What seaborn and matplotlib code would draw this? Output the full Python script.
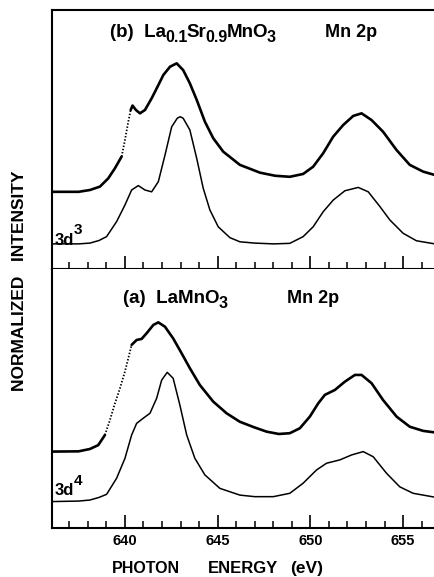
import numpy as np
import pandas as pd
import matplotlib
matplotlib.use("Agg")
import matplotlib.pyplot as plt
import seaborn as sns

# ---------------- data ----------------
# panel (b) La0.1Sr0.9MnO3 experiment
energy_b_exp = [636.05, 637.5, 638.11, 638.65, 639.1, 639.46, 639.82, 640.0, 640.18, 640.31,
                640.41, 640.59, 640.81, 641.08, 641.44, 641.8, 642.07, 642.43, 642.79, 643.14,
                643.5, 643.87, 644.31, 644.76, 645.3, 646.2, 647.28, 648.1, 648.89, 649.61,
                650.15, 650.69, 651.23, 651.77, 652.31, 652.76, 653.3, 653.92, 654.65, 655.36,
                656.08, 656.71]
intensity_b_exp = [0.298, 0.298, 0.305, 0.318, 0.350, 0.389, 0.434, 0.498, 0.569, 0.614,
                   0.631, 0.614, 0.601, 0.614, 0.659, 0.710, 0.749, 0.781, 0.794, 0.768,
                   0.717, 0.653, 0.569, 0.505, 0.453, 0.402, 0.372, 0.360, 0.356, 0.367,
                   0.395, 0.447, 0.511, 0.556, 0.591, 0.601, 0.575, 0.530, 0.459, 0.402,
                   0.376, 0.363]
dotted_range_b = [639.82, 640.31]

# panel (b) 3d3 calculation
energy_b_calc = [636.05, 637.5, 638.11, 638.6, 639.01, 639.55, 640.0, 640.36, 640.72, 641.08,
                 641.44, 641.8, 642.16, 642.52, 642.82, 642.98, 643.14, 643.5, 643.87, 644.22,
                 644.58, 645.03, 645.66, 646.2, 647.0, 648.0, 648.89, 649.61, 650.15, 650.69,
                 651.23, 651.86, 652.58, 653.12, 653.75, 654.29, 655.0, 655.72, 656.71]
intensity_b_calc = [0.097, 0.097, 0.100, 0.110, 0.125, 0.183, 0.247, 0.305, 0.322, 0.305,
                    0.298, 0.337, 0.440, 0.549, 0.582, 0.588, 0.582, 0.537, 0.427, 0.312,
                    0.228, 0.163, 0.121, 0.105, 0.100, 0.097, 0.099, 0.125, 0.163, 0.221,
                    0.266, 0.302, 0.315, 0.298, 0.241, 0.189, 0.138, 0.109, 0.097]

# panel (a) LaMnO3 experiment
energy_a_exp = [636.05, 637.5, 638.11, 638.56, 638.92, 639.19, 639.46, 639.73, 640.0, 640.18,
                640.36, 640.63, 640.9, 641.17, 641.53, 641.8, 642.16, 642.6, 643.06, 643.5,
                644.04, 644.76, 645.48, 646.2, 647.0, 647.64, 648.3, 648.89, 649.43, 649.97,
                650.42, 650.78, 651.32, 651.86, 652.4, 652.76, 653.3, 653.92, 654.65, 655.36,
                656.08, 656.71]
intensity_a_exp = [0.295, 0.296, 0.305, 0.320, 0.359, 0.417, 0.481, 0.539, 0.604, 0.655,
                   0.707, 0.726, 0.730, 0.752, 0.784, 0.794, 0.777, 0.732, 0.674, 0.617,
                   0.552, 0.488, 0.443, 0.410, 0.388, 0.372, 0.363, 0.366, 0.385, 0.430,
                   0.481, 0.514, 0.533, 0.565, 0.591, 0.591, 0.559, 0.494, 0.430, 0.391,
                   0.375, 0.369]
dotted_range_a = [638.92, 640.36]

# panel (a) 3d4 calculation
energy_a_calc = [636.05, 637.5, 638.11, 638.6, 639.01, 639.55, 640.0, 640.36, 640.63, 640.99,
                 641.35, 641.71, 641.98, 642.28, 642.6, 642.96, 643.33, 643.77, 644.31, 645.12,
                 646.2, 647.0, 648.0, 648.89, 649.61, 650.33, 650.87, 651.59, 652.22, 652.85,
                 653.39, 654.11, 654.82, 655.54, 656.71]
intensity_a_calc = [0.102, 0.104, 0.108, 0.118, 0.130, 0.192, 0.269, 0.359, 0.404, 0.424,
                    0.443, 0.501, 0.571, 0.601, 0.578, 0.475, 0.359, 0.269, 0.205, 0.153,
                    0.127, 0.121, 0.121, 0.134, 0.173, 0.224, 0.250, 0.263, 0.282, 0.295,
                    0.275, 0.211, 0.159, 0.134, 0.119]

major_ticks = [640, 645, 650, 655]
minor_ticks = [637, 638, 639, 641, 642, 643, 644, 646, 647, 648, 649, 651, 652, 653, 654, 656]
tick_labels = ["640", "645", "650", "655"]

# ---------------- style ----------------
sns.set_theme(style="ticks")
plt.rcParams["font.family"] = ["Liberation Sans", "DejaVu Sans"]
plt.rcParams["font.weight"] = "bold"
plt.rcParams["text.color"] = "black"
plt.rcParams["axes.labelcolor"] = "black"
plt.rcParams["xtick.color"] = "black"
plt.rcParams["ytick.color"] = "black"
plt.rcParams["axes.edgecolor"] = "black"
plt.rcParams["lines.solid_joinstyle"] = "round"
plt.rcParams["lines.solid_capstyle"] = "round"

W, H = 435, 577
fig = plt.figure(figsize=(W / 100, H / 100), dpi=100)
fig.patch.set_facecolor("white")

left_px, top_px, mid_px, bot_px = 51.7, 10, 269, 528
axw = (W - left_px) / W
ax_b = fig.add_axes([left_px / W, 1 - mid_px / H, axw, (mid_px - top_px) / H])
ax_a = fig.add_axes([left_px / W, 1 - bot_px / H, axw, (bot_px - mid_px) / H])

XLIM = (636.05, 656.72)


def draw_exp(ax, e, v, drange):
    df = pd.DataFrame({"energy": e, "intensity": v})
    lo, hi = drange
    seg1 = df[df.energy <= lo]
    segd = df[(df.energy >= lo) & (df.energy <= hi)]
    seg2 = df[df.energy >= hi]
    for seg in (seg1, seg2):
        sns.lineplot(data=seg, x="energy", y="intensity", ax=ax, color="black",
                     linewidth=1.9, estimator=None, sort=True)
    sns.lineplot(data=segd, x="energy", y="intensity", ax=ax, color="black",
                 linewidth=1.3, linestyle=(0, (0.8, 1.0)), estimator=None, sort=True)


def draw_calc(ax, e, v):
    df = pd.DataFrame({"energy": e, "intensity": v})
    sns.lineplot(data=df, x="energy", y="intensity", ax=ax, color="black",
                 linewidth=1.1, estimator=None, sort=True)


draw_exp(ax_b, energy_b_exp, intensity_b_exp, dotted_range_b)
draw_calc(ax_b, energy_b_calc, intensity_b_calc)
draw_exp(ax_a, energy_a_exp, intensity_a_exp, dotted_range_a)
draw_calc(ax_a, energy_a_calc, intensity_a_calc)

for ax in (ax_a, ax_b):
    ax.set_xlim(*XLIM)
    ax.set_ylim(0, 1)
    ax.set_xlabel("")
    ax.set_ylabel("")
    ax.set_yticks([])
    ax.set_facecolor("white")
    ax.spines["right"].set_visible(False)
    for s in ax.spines.values():
        s.set_linewidth(1.5)
        s.set_color("black")
    ax.set_xticks(major_ticks)
    ax.set_xticks(minor_ticks, minor=True)
    ax.tick_params(axis="x", which="major", direction="in", length=9.5, width=1.2,
                   color="black", labelcolor="black", pad=4, labelsize=10.5)
    ax.tick_params(axis="x", which="minor", direction="in", length=5, width=1.1,
                   color="black")

ax_a.spines["top"].set_visible(False)
ax_a.set_xticklabels(tick_labels, fontweight="bold")
ax_b.set_xticklabels([])

renderer = fig.canvas.get_renderer()


def ftext(xpx, ypx, s, **kw):
    return fig.text(xpx / W, 1 - ypx / H, s, color="black", fontweight="bold", **kw)


def seq_text(xpx, ypx, parts, gap=-1.0):
    """parts: list of (string, fontsize, vertical offset in px (down positive))"""
    x = xpx
    for s, size, dy in parts:
        t = ftext(x, ypx + dy, s, fontsize=size, va="baseline", ha="left")
        bb = t.get_window_extent(renderer)
        x = bb.x1 + gap


MAIN, SUB = 13.5, 11.5
seq_text(110, 37, [("(b)  La", MAIN, 0), ("0.1", SUB, 5), ("Sr", MAIN, 0), ("0.9", SUB, 5),
                   ("MnO", MAIN, 0), ("3", SUB, 5)])
ftext(325, 37, "Mn 2p", fontsize=13, va="baseline")
seq_text(123, 303, [("(a)  LaMnO", MAIN, 0), ("3", SUB, 5)])
ftext(287, 303, "Mn 2p", fontsize=13, va="baseline")
seq_text(55, 245, [("3d", 12, 0), ("3", 11, -11)])
seq_text(55, 495, [("3d", 12, 0), ("4", 11, -10)])
ftext(112, 573, "PHOTON", fontsize=11.5, va="baseline")
ftext(208, 573, "ENERGY", fontsize=12, va="baseline")
ftext(290, 573, "(eV)", fontsize=12.5, va="baseline")
ftext(20, 281, "NORMALIZED   INTENSITY", fontsize=12.5,
      rotation=90, ha="center", va="center")

fig.savefig("out.png", dpi=100, facecolor="white")
